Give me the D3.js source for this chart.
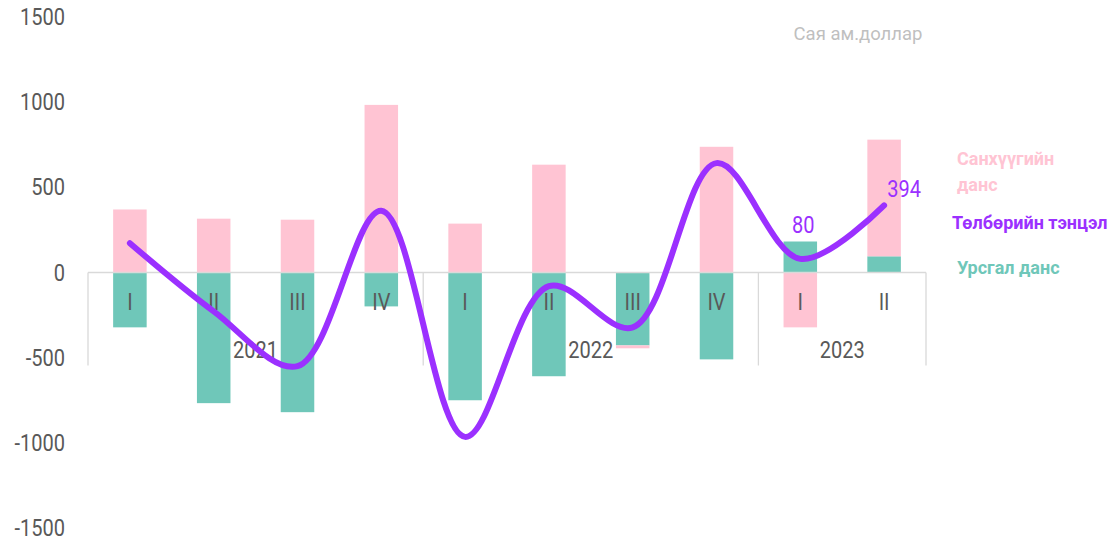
<!DOCTYPE html>
<html>
<head>
<meta charset="utf-8">
<script src="https://cdn.jsdelivr.net/npm/d3@7"></script>
<style>
  body { margin: 0; background: #fff; }
  svg { display: block; font-family: "Roboto", "Noto Sans", sans-serif; }
</style>
</head>
<body>
<div id="chart"></div>
<script>
// quarters and years
const quarters = ["I", "II", "III", "IV", "I", "II", "III", "IV", "I", "II"];
const years = ["2021", "2022", "2023"];
const quartersPerYear = [4, 4, 2];

// series (сая ам.доллар)
const urgsgal = [-322, -767, -820, -199, -750, -609, -428, -510, 182, 95];
const sanhuu = [370, 316, 310, 984, 287, 633, -17, 738, -322, 685];
const tentsel = [172, -228, -550, 362, -965, -80, -322, 642, 80, 394];

const yTicks = [-1500, -1000, -500, 0, 500, 1000, 1500];

const W = 1119, H = 540;
const svg = d3.select('#chart').append('svg')
    .attr('width', W)
    .attr('height', H);

const idx = d3.range(quarters.length);
const x = d3.scaleBand()
    .domain(idx)
    .range([88, 926])
    .paddingInner(0.6)
    .paddingOuter(0.3);

const y = d3.scaleLinear()
    .domain([-1500, 1500])
    .range([528, 17]);

// narrow text like the original condensed face
function squeeze(sel, sx) {
    sel.attr('transform', function() {
        const tx = +this.getAttribute('data-x');
        const ty = +this.getAttribute('data-y');
        return `translate(${tx},${ty}) scale(${sx},1)`;
    });
}

// y tick labels
svg.append('g')
    .selectAll('text')
    .data(yTicks)
    .enter().append('text')
    .attr('data-x', 65)
    .attr('data-y', d => y(d) + 8)
    .attr('text-anchor', 'end')
    .attr('font-size', 23)
    .attr('fill', '#595959')
    .text(d => d)
    .call(squeeze, 0.87);

// stacked bars
const rows = idx.map(i => ({ i, urgsgal: urgsgal[i], sanhuu: sanhuu[i] }));
const series = d3.stack()
    .keys(['urgsgal', 'sanhuu'])
    .offset(d3.stackOffsetDiverging)(rows);
const colors = { urgsgal: '#6fc7b9', sanhuu: '#ffc4d3' };

svg.append('g')
    .selectAll('g')
    .data(series)
    .enter().append('g')
    .attr('fill', d => colors[d.key])
    .selectAll('rect')
    .data(d => d)
    .enter().append('rect')
    .attr('x', d => x(d.data.i))
    .attr('width', x.bandwidth())
    .attr('y', d => y(Math.max(d[0], d[1])))
    .attr('height', d => Math.abs(y(d[0]) - y(d[1])));

// category axis (two levels)
const axis = svg.append('g').attr('stroke', '#d9d9d9').attr('stroke-width', 1.3);
const y0 = y(0);
axis.append('line')
    .attr('x1', 88).attr('x2', 926)
    .attr('y1', y0).attr('y2', y0);

let start = 0;
const bounds = [0];
quartersPerYear.forEach(n => { start += n; bounds.push(start); });
const edgeX = k => k === 0 ? 88 : (k === quarters.length ? 926 : x(k) - x.step() * x.paddingInner() / 2);
bounds.forEach(k => {
    axis.append('line')
        .attr('x1', edgeX(k)).attr('x2', edgeX(k))
        .attr('y1', y0).attr('y2', y0 + 93);
});

svg.append('g')
    .selectAll('text')
    .data(idx)
    .enter().append('text')
    .attr('data-x', i => x(i) + x.bandwidth() / 2)
    .attr('data-y', 310)
    .attr('text-anchor', 'middle')
    .attr('font-size', 23)
    .attr('fill', '#595959')
    .text(i => quarters[i])
    .call(squeeze, 0.87);

svg.append('g')
    .selectAll('text')
    .data(years)
    .enter().append('text')
    .attr('data-x', (d, j) => (edgeX(bounds[j]) + edgeX(bounds[j + 1])) / 2)
    .attr('data-y', 358)
    .attr('text-anchor', 'middle')
    .attr('font-size', 23)
    .attr('fill', '#595959')
    .text(d => d)
    .call(squeeze, 0.87);

// balance line
const line = d3.line()
    .x(i => x(i) + x.bandwidth() / 2)
    .y(i => y(tentsel[i]))
    .curve(d3.curveCatmullRom.alpha(0.5));

svg.append('path')
    .datum(idx)
    .attr('d', line)
    .attr('fill', 'none')
    .attr('stroke', '#9b30ff')
    .attr('stroke-width', 6)
    .attr('stroke-linecap', 'round')
    .attr('stroke-linejoin', 'round');

// labels on the last two points
const labelled = [8, 9];
svg.append('g')
    .selectAll('text')
    .data(labelled)
    .enter().append('text')
    .attr('data-x', i => x(i) + x.bandwidth() / 2 + (i === 9 ? 20 : 3))
    .attr('data-y', i => y(tentsel[i]) - (i === 9 ? 8 : 26))
    .attr('text-anchor', 'middle')
    .attr('font-size', 23)
    .attr('fill', '#9b30ff')
    .text(i => tentsel[i])
    .call(squeeze, 0.87);

// unit
svg.append('text')
    .attr('x', 858).attr('y', 40)
    .attr('text-anchor', 'middle')
    .attr('font-size', 18.5)
    .attr('fill', '#bfbfbf')
    .text('Сая ам.доллар');

// legend
const legend = svg.append('g').attr('font-weight', 'bold').attr('font-size', 18);
legend.append('text').attr('x', 957).attr('y', 165).attr('fill', '#ffc4d3').text('Санхүүгийн');
legend.append('text').attr('x', 957).attr('y', 191).attr('fill', '#ffc4d3').text('данс');
legend.append('text').attr('x', 952).attr('y', 229).attr('fill', '#9b30ff').text('Төлбөрийн тэнцэл');
legend.append('text').attr('x', 957).attr('y', 274).attr('fill', '#6fc7b9').text('Урсгал данс');
</script>
</body>
</html>
